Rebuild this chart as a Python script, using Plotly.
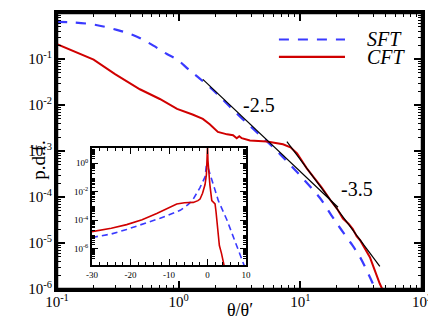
import numpy as np
import plotly.graph_objects as go

# ---- main panel: p.d.f. of theta/theta' (log-log) ----
sft_x = [0.1, 0.13, 0.2, 0.31, 0.45, 0.62, 0.8, 0.97, 1.2, 1.5, 2.0, 2.6, 4.0, 6.0, 8.2,
         11, 14.5, 18, 21, 26, 31, 36, 39.5, 42]
sft_y = [0.64, 0.63, 0.56, 0.43, 0.31, 0.195, 0.128, 0.098, 0.06, 0.037, 0.019, 0.0095,
         0.0032, 0.0012, 5.1e-4, 2.2e-4, 9.5e-5, 4.0e-5, 2.2e-5, 1.0e-5, 4.9e-6, 2.2e-6,
         1.3e-6, 9e-7]

cft_x = [0.1, 0.2, 0.3, 0.48, 0.7, 0.97, 1.3, 1.58, 1.8, 2.1, 2.5, 2.8, 3.0, 3.15, 3.3,
         3.5, 3.85, 5.3, 7.2, 8.3, 9.4, 11.3, 13, 15, 18, 20, 22.4, 25, 27, 29, 31, 34,
         37.3, 40, 42.6, 45, 48]
cft_y = [0.21, 0.097, 0.047, 0.022, 0.0135, 0.0082, 0.0062, 0.005, 0.0038, 0.0026,
         0.0023, 0.0022, 0.0019, 0.0021, 0.0019, 0.0018, 0.0017, 0.0016, 0.0014, 0.0012,
         8.9e-4, 4.2e-4, 2.6e-4, 1.6e-4, 8.0e-5, 5.6e-5, 3.4e-5, 2.6e-5, 2.0e-5, 1.4e-5,
         1.15e-5, 7.5e-6, 4.9e-6, 3.0e-6, 1.8e-6, 1.3e-6, 9e-7]

# reference power laws
fit25_x = [1.58, 20.4]
fit25_y = [0.036, 6.0e-5]
fit35_x = [7.76, 45]
fit35_y = [1.6e-3, 3.1e-6]

# ---- inset: p.d.f. of theta (lin-log) ----
in_cft_x = [-30, -25, -21, -17, -13.2, -10, -8, -6, -3.7, -2.5, -1.95, -1.3, -0.65, -0.3,
            -0.05, 0, 0.1, 0.3, 0.6, 1.1, 1.6, 1.95, 2.2, 2.4, 3.07, 3.6, 4.1, 4.4]
in_cft_y = [1.6e-5, 2.8e-5, 5.0e-5, 1.1e-4, 3.0e-4, 7.9e-4, 1.4e-3, 1.7e-3, 1.8e-3,
            2.4e-3, 3.1e-3, 7.9e-3, 3.2e-2, 0.16, 2.0, 16, 1.6, 0.25, 0.032, 2.4e-3,
            1.8e-3, 1.4e-3, 4.0e-4, 1.1e-4, 1.7e-6, 5.0e-7, 1.3e-7, 5e-8]
in_sft_x = [-30, -25, -21, -17, -12.3, -7.1, -5, -3.7, -2, -0.65, -0.3, 0, 0.3, 1.1, 2.8,
            5.0, 7.1, 8.9, 9.7]
in_sft_y = [6.3e-6, 1.1e-5, 2.3e-5, 5.0e-5, 1.4e-4, 5.0e-4, 1.3e-3, 3.1e-3, 0.019, 0.11,
            0.7, 0.63, 0.35, 0.087, 2.4e-3, 1.1e-4, 3.8e-6, 1.7e-7, 5e-8]

main_xticks = [0.1, 1, 10, 100]
main_xtext = ["10<sup>-1</sup>", "10<sup>0</sup>", "10<sup>1</sup>", "10<sup>2</sup>"]
main_yticks = [1e-6, 1e-5, 1e-4, 1e-3, 1e-2, 1e-1, 1]
main_ytext = ["10<sup>-6</sup>", "10<sup>-5</sup>", "10<sup>-4</sup>", "10<sup>-3</sup>",
              "10<sup>-2</sup>", "10<sup>-1</sup>", "10<sup>0</sup>"]
in_xticks = [-30, -20, -10, 0, 10]
in_xtext = ["-30", "-20", "-10", "0", "10"]
in_yticks = [1e-6, 1e-4, 1e-2, 1]
in_ytext = ["10<sup>-6</sup>", "10<sup>-4</sup>", "10<sup>-2</sup>", "10<sup>0</sup>"]


def log_minor(lo, hi):
    # 2..9 times each decade, for the small tick marks
    return [m * 10.0 ** e for e in range(lo, hi) for m in range(2, 10)]


BLUE = '#3a3aff'
RED = '#d00000'
SERIF = 'Liberation Serif'

fig = go.Figure()

fig.add_trace(go.Scatter(x=sft_x, y=sft_y, mode='lines', line_shape='spline',
                         line=dict(color=BLUE, width=2.2, dash='10px,9px')))
fig.add_trace(go.Scatter(x=cft_x, y=cft_y, mode='lines',
                         line=dict(color=RED, width=2)))
fig.add_trace(go.Scatter(x=fit25_x, y=fit25_y, mode='lines',
                         line=dict(color='black', width=1.2)))
fig.add_trace(go.Scatter(x=fit35_x, y=fit35_y, mode='lines',
                         line=dict(color='black', width=1.2)))

fig.add_trace(go.Scatter(x=in_sft_x, y=in_sft_y, mode='lines', xaxis='x2', yaxis='y2',
                         line=dict(color=BLUE, width=1.6, dash='6px,4px')))
fig.add_trace(go.Scatter(x=in_cft_x, y=in_cft_y, mode='lines', xaxis='x2', yaxis='y2',
                         line=dict(color=RED, width=1.6)))

# empty trace so the label-only axes get drawn
fig.add_trace(go.Scatter(x=[None], y=[None], mode='lines', xaxis='x3', yaxis='y3',
                         hoverinfo='skip', line=dict(color='rgba(0,0,0,0)')))

# main axes: frame + ticks only (decade ticks and 2..9 minor ticks)
main_ax = dict(showline=True, linewidth=3, linecolor='black', mirror='allticks',
               ticks='inside', ticklen=8, tickwidth=1.5, tickcolor='black',
               showgrid=False, zeroline=False, tickmode='linear', tick0=0, dtick=1,
               showticklabels=False,
               minor=dict(ticks='inside', ticklen=4, tickwidth=1, tickcolor='black',
                          dtick='D1', showgrid=False))
# label-only axes laid over the main ones
label_ax = dict(showline=False, ticks='', showgrid=False, zeroline=False,
                tickmode='array', tickfont=dict(family=SERIF, size=15, color='black'))
inset_ax = dict(showline=True, linewidth=2, linecolor='black', mirror='allticks',
                ticks='inside', ticklen=6, tickwidth=1.2, tickcolor='black',
                showgrid=False, zeroline=False, tickmode='array',
                tickfont=dict(family=SERIF, size=9, color='black'))

# the page adds an 8px body margin, so the margins are shifted to compensate
fig.update_layout(
    width=436, height=327,
    margin=dict(l=49, r=22, t=2, b=46),
    paper_bgcolor='white', plot_bgcolor='white',
    showlegend=False,
    font=dict(family=SERIF, color='black'),
    xaxis=dict(main_ax, type='log', range=[-1, 2]),
    yaxis=dict(main_ax, type='log', range=[-6, 0]),
    xaxis3=dict(label_ax, type='log', range=[-1, 2], overlaying='x', anchor='y3',
                side='bottom', tickvals=main_xticks, ticktext=main_xtext,
                ticklabelstandoff=2),
    yaxis3=dict(label_ax, type='log', range=[-6, 0], overlaying='y', anchor='x3',
                side='left', tickvals=main_yticks, ticktext=main_ytext,
                ticklabelstandoff=4),
    xaxis2=dict(inset_ax, domain=[0.0959, 0.518], anchor='y2', range=[-30, 10],
                tickvals=in_xticks, ticktext=in_xtext,
                minor=dict(ticks='inside', ticklen=3, tickcolor='black',
                           tickmode='array', tickvals=list(range(-28, 10, 2)))),
    yaxis2=dict(inset_ax, domain=[0.086, 0.5125], anchor='x2', type='log',
                range=[-7.15, 1.1], tickvals=in_yticks, ticktext=in_ytext,
                minor=dict(ticks='inside', ticklen=3, tickcolor='black',
                           tickmode='array', tickvals=log_minor(-7, 1))),
)

# outer frame of the main panel
fig.add_shape(type='rect', xref='paper', yref='paper', x0=0, x1=1, y0=0, y1=1,
              line=dict(color='black', width=2.5), layer='above')

# legend drawn by hand (line samples + italic labels)
for yy, col, dash, name in [(0.904, BLUE, '10px,9px', 'SFT'), (0.841, RED, 'solid', 'CFT')]:
    fig.add_shape(type='line', xref='paper', yref='paper', x0=0.608, x1=0.789, y0=yy, y1=yy,
                  line=dict(color=col, width=2.2, dash=dash))
    fig.add_annotation(xref='paper', yref='paper', x=0.845, y=yy, xanchor='left',
                       yanchor='middle', showarrow=False, text='<i>' + name + '</i>',
                       font=dict(family=SERIF, size=20, color='black'))

# slope labels
fig.add_annotation(x=float(np.log10(4.6)), y=-2.0, text='-2.5', showarrow=False,
                   font=dict(family=SERIF, size=20, color='black'))
fig.add_annotation(x=float(np.log10(29)), y=-3.83, text='-3.5', showarrow=False,
                   font=dict(family=SERIF, size=20, color='black'))

# axis titles
fig.add_annotation(xref='paper', yref='paper', x=0.5, y=-0.075, yanchor='middle',
                   text='θ/θ′', showarrow=False,
                   font=dict(family=SERIF, size=18, color='black'))
fig.add_annotation(xref='paper', yref='paper', x=-0.085, y=0.47, textangle=-90,
                   text='p.d.f.', showarrow=False,
                   font=dict(family=SERIF, size=19, color='black'))

fig.write_html("out.html")
